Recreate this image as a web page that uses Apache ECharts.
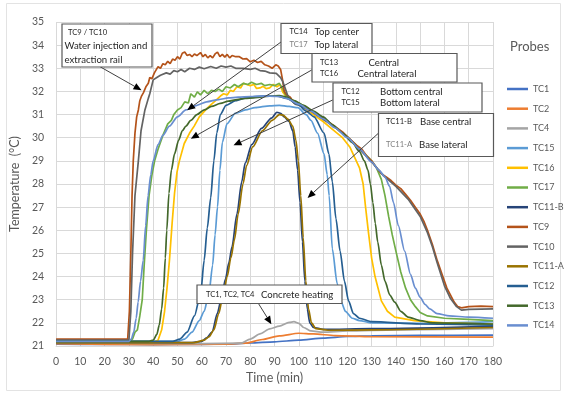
<!DOCTYPE html>
<html><head><meta charset="utf-8">
<script src="https://cdn.jsdelivr.net/npm/echarts@6/dist/echarts.min.js"></script>
<style>html,body{margin:0;padding:0;background:#fff}#c{width:564px;height:394px}</style>
</head><body><div id="c"></div>
<script>
// ---------- DATA ([time min, temperature °C]) ----------
const probeNames = ['TC1','TC2','TC4','TC15','TC16','TC17','TC11-B','TC9','TC10','TC11-A','TC12','TC13','TC14'];

const TC1 = [[0,21.08],[20,21.07],[40,21.06],[60,21.07],[70,21.08],[80,21.13],[90,21.18],[100,21.25],[110,21.34],[120,21.41],[130,21.44],[150,21.46],[180,21.47]];
const TC2 = [[0,21.1],[40,21.06],[70,21.08],[78,21.12],[85,21.28],[92,21.44],[100,21.55],[106,21.52],[115,21.45],[130,21.4],[180,21.38]];
const TC4 = [[0,21.15],[60,21.1],[76,21.12],[80,21.3],[84,21.52],[88,21.74],[92,21.86],[96,22.02],[98,22.05],[100,21.98],[102,21.8],[105,21.65],[110,21.6],[120,21.65],[140,21.7],[180,21.75]];
const TC15 = [[0,21.2],[50,21.2],[53,21.3],[56,21.6],[59,22.1],[61,22.5],[63,23.3],[64.5,24.5],[65.5,25.8],[66.5,27.0],[67.5,28.6],[68.5,29.8],[70.4,30.6],[73.8,31.05],[78,31.2],[82,31.3],[88,31.38],[92,31.4],[96,31.35],[99.6,31.3],[103,31.0],[105,30.75],[107.7,30.2],[110.4,29.3],[111.7,28.4],[112.5,27.5],[113.8,25.2],[115.8,23.7],[117.5,22.9],[119.2,22.5],[122,22.2],[125,22.1],[130,22.0],[150,21.98],[180,22.05]];
const TC16 = [[0,21.15],[40,21.15],[42,21.25],[43.5,21.7],[44.7,22.5],[45.7,23.5],[46.7,24.7],[47.8,26.3],[48.8,27.6],[49.8,28.5],[50.8,29.0],[52.8,29.75],[55,30.2],[56.9,30.5],[59,30.9],[61.6,31.2],[63.5,31.4],[65.7,31.6],[67.7,31.8],[69,31.9],[70.5,31.85],[71.8,32.05],[73,32.0],[74.5,32.2],[76,32.15],[77.2,32.35],[78.5,32.3],[80,32.25],[81.5,32.3],[82.6,32.13],[84,32.15],[85.3,32.22],[86.5,32.12],[88,32.15],[89.5,32.3],[91,32.2],[92.2,32.3],[93.5,31.95],[95,31.75],[98,31.55],[102,31.3],[106,31.0],[110,30.7],[114,30.35],[118,30.0],[121,29.6],[123,29.15],[125,28.7],[126.5,28.0],[127.5,27.0],[128.7,25.9],[130,24.8],[131.4,24.0],[134,22.95],[136.5,22.5],[139.5,22.25],[147.6,22.1],[160,22.0],[180,21.95]];
const TC17 = [[0,21.2],[30,21.2],[31.5,21.3],[32.5,21.6],[33.5,21.7],[34.5,22.3],[35.5,23.0],[36.3,24.5],[37.2,26.0],[38.3,27.5],[39.5,28.4],[40.6,29.0],[42,29.5],[44,30.1],[46,30.6],[47.5,30.75],[48.5,31.0],[50,31.2],[51.5,31.3],[53,31.55],[54.5,31.5],[55.5,31.9],[57,31.75],[58.2,31.98],[59.5,31.85],[61,32.05],[62.5,31.9],[64,32.05],[65.5,32.0],[67,32.1],[68.5,32.0],[70,32.2],[71.8,32.15],[73.5,32.3],[75,32.2],[77.2,32.35],[79,32.3],[80.5,32.4],[82.6,32.3],[84.5,32.35],[86,32.25],[88,32.3],[90,32.25],[92,32.35],[93.5,32.1],[94.5,31.85],[97,31.65],[100,31.5],[105,31.2],[110,30.85],[115,30.45],[120,30.05],[125,29.55],[130,29.0],[132,28.7],[134,28.2],[135.5,27.5],[137,26.6],[138.5,25.8],[140,25.1],[142,24.2],[144,23.5],[146,23.0],[148,22.7],[150,22.45],[153,22.3],[160,22.2],[170,22.15],[180,22.1]];
const TC11B = [[0,21.15],[56,21.15],[60,21.2],[62,21.35],[64.3,21.6],[66.4,22.4],[68,23.0],[69.8,23.9],[71.2,24.6],[72.5,25.3],[74.5,26.7],[76.5,28.1],[77.9,28.9],[80.6,29.7],[84.6,30.4],[88.7,30.85],[91,31.1],[92.5,31.05],[94,30.9],[96,30.7],[97.5,30.3],[98.5,29.6],[99.5,28.6],[100.5,27.2],[101.5,25.5],[102.5,23.8],[103.5,22.6],[104.5,22.0],[106,21.8],[110,21.72],[130,21.75],[180,21.85]];
const TC9 = [[0,21.3],[29.5,21.3],[30.2,22.5],[30.8,25.0],[31.3,27.5],[31.8,29.0],[32.5,30.2],[33.2,30.9],[33.9,31.2],[34.5,31.6],[35.2,31.8],[36,31.95],[37,32.2],[38,32.35],[38.6,32.6],[39.5,32.55],[40.5,32.8],[41.3,32.75],[42,33.07],[43,33.0],[44,33.2],[45,33.15],[46,33.3],[47,33.2],[48,33.4],[49,33.35],[50,33.5],[51,33.4],[52,33.65],[53,33.7],[54,33.55],[55,33.6],[56,33.5],[57,33.62],[58,33.55],[59.5,33.68],[60.5,33.5],[61.5,33.6],[62.5,33.45],[63.5,33.55],[64.5,33.45],[65.5,33.62],[66.5,33.7],[67.5,33.5],[68.5,33.6],[69.5,33.48],[70.5,33.6],[71.5,33.45],[72.5,33.55],[74,33.5],[75.5,33.5],[77,33.4],[78.5,33.42],[80,33.28],[81.5,33.35],[83,33.25],[84.5,33.3],[86,33.15],[87.5,33.1],[89,33.0],[90.5,33.15],[91.5,33.1],[92.5,32.95],[93.3,32.5],[94,32.0],[95,31.85],[96.5,31.75],[98,31.5],[100,31.45],[102,31.35],[104,31.25],[106,31.1],[108,30.95],[110,30.85],[112,30.7],[114,30.55],[116,30.4],[118,30.25],[120,30.05],[122,29.85],[124,29.65],[126,29.5],[128,29.2],[130,29.0],[132,28.7],[134,28.45],[136,28.3],[138,28.15],[140,27.95],[142,27.8],[144,27.55],[146,27.3],[148,27.0],[150,26.7],[151.7,26.35],[153,26.0],[155,25.4],[157,24.7],[159,24.1],[161,23.5],[162.5,23.2],[164,22.9],[165.5,22.7],[167,22.65],[170,22.7],[175,22.72],[180,22.7]];
const TC10 = [[0,21.25],[30,21.25],[30.8,22.5],[31.5,25.0],[32.5,27.5],[33.9,29.0],[35,30.3],[36.6,31.2],[38,31.7],[38.6,31.9],[40,32.5],[41.5,32.6],[43,32.7],[45.4,32.8],[47,32.75],[48.5,32.9],[50,32.85],[51.5,32.95],[53,32.85],[55,33.0],[57,32.95],[59,33.05],[61,32.98],[63.7,33.08],[66,33.0],[68,33.1],[70,33.05],[72,33.1],[74,33.0],[77,33.0],[80,32.95],[82,33.0],[84,32.9],[86,32.88],[88,32.8],[90.7,32.78],[92.5,32.6],[93.5,32.4],[94.5,32.1],[95.5,31.8],[97,31.6],[98.5,31.45],[100,31.4],[105,31.15],[110,30.8],[115,30.45],[120,30.0],[125,29.5],[130,28.95],[135,28.35],[140,27.9],[145,27.35],[150,26.6],[153,25.9],[155,25.3],[157,24.6],[160,23.6],[162.5,23.05],[165,22.7],[167,22.55],[170,22.58],[180,22.6]];
const TC11A = [[0,21.15],[57,21.15],[61,21.25],[63,21.4],[65,21.7],[67,22.4],[68.8,23.2],[70.5,24.0],[72,24.8],[73.5,25.6],[75,26.7],[77,28.0],[78.5,28.8],[81,29.6],[85,30.3],[89,30.75],[92,31.0],[93.5,30.98],[95.5,30.8],[97.5,30.5],[98.8,29.9],[99.8,29.0],[100.8,27.5],[101.8,25.7],[102.9,23.8],[104,22.6],[105.2,22.0],[107,21.75],[112,21.68],[130,21.7],[180,21.8]];
const TC12 = [[0,21.2],[48,21.2],[51,21.3],[54,21.6],[57,22.3],[59.6,23.3],[61,24.7],[62.3,26.1],[63.7,27.4],[65,29.0],[66.2,30.2],[67.7,31.0],[70,31.4],[74,31.6],[79,31.75],[85,31.8],[91,31.8],[95,31.7],[99.6,31.45],[103,31.15],[106.3,30.9],[110.4,30.2],[112.4,29.3],[113.8,28.1],[115.3,26.5],[117,25.1],[118.8,23.8],[120.5,22.95],[122.5,22.4],[125,22.2],[130,22.05],[150,21.95],[180,21.9]];
const TC13 = [[0,21.2],[38,21.2],[40,21.25],[41.5,21.5],[42.5,21.9],[43.5,22.6],[44.3,23.5],[45,24.8],[45.6,26.0],[46.5,27.6],[47.5,28.6],[48.8,29.3],[50.5,29.9],[52,30.3],[53.5,30.5],[55.5,30.75],[58,31.0],[61,31.2],[64,31.35],[67.7,31.48],[71,31.58],[74.5,31.65],[78,31.7],[81.3,31.72],[85,31.76],[88,31.8],[92,31.82],[95,31.75],[98,31.6],[102,31.4],[106,31.15],[110,30.9],[114,30.55],[118,30.2],[122,29.8],[125,29.4],[127,29.0],[128.5,28.6],[129.5,28.0],[130.5,27.2],[131.5,26.3],[132.5,25.5],[134,24.5],[135.5,23.8],[137.5,23.2],[139.5,22.9],[142,22.5],[145,22.25],[150,22.1],[155,22.0],[180,21.95]];
const TC14 = [[0,21.2],[30,21.2],[31,21.3],[32,21.6],[33,22.2],[33.8,22.9],[34.8,23.8],[35.9,24.7],[36.9,26.2],[37.9,27.5],[39,28.4],[40,29.0],[42,29.7],[44,30.1],[46.7,30.5],[50,30.9],[53.5,31.2],[58,31.4],[62,31.55],[67,31.65],[71,31.72],[75,31.75],[80,31.78],[85,31.8],[88,31.8],[92,31.78],[95,31.7],[100,31.45],[105,31.15],[110,30.82],[115,30.42],[120,30.0],[125,29.52],[130,28.95],[133,28.6],[135.5,28.3],[137.4,27.9],[139,27.2],[141,26.2],[143.6,25.1],[146,24.1],[148,23.5],[150,23.1],[152,22.8],[154,22.6],[157,22.4],[162,22.3],[170,22.25],[180,22.2]];

const seriesData = [TC1, TC2, TC4, TC15, TC16, TC17, TC11B, TC9, TC10, TC11A, TC12, TC13, TC14];
const noisy = [false,false,false,false,true,true,false,true,true,false,false,false,false];
const colors = ['#4472C4','#ED7D31','#A5A5A5','#5B9BD5','#FFC000','#70AD47','#264478','#B4531A','#636363','#997300','#255E91','#43682B','#698ED0'];

const xMin = 0, xMax = 180, xStep = 10;
const yMin = 21, yMax = 35, yStep = 1;

// ---------- CHART ----------
const FONT = 'Lato';
const chart = echarts.init(document.getElementById('c'), null, {renderer:'canvas'});
const grid = {left:50, right:71, top:22, bottom:48};

chart.setOption({
  animation:false,
  backgroundColor:'#fff',
  textStyle:{fontFamily:FONT},
  grid:grid,
  legend:{
    orient:'vertical', left:507, top:82, padding:0,
    itemWidth:21, itemHeight:2.5, itemGap:5.7,
    icon:'rect',
    textStyle:{color:'#595959', fontSize:9, lineHeight:14, fontFamily:FONT},
    data:probeNames
  },
  xAxis:{
    type:'value', min:xMin, max:xMax, interval:xStep,
    name:'Time (min)', nameLocation:'middle', nameGap:24,
    nameTextStyle:{color:'#595959', fontSize:12.5, fontFamily:FONT},
    axisLine:{show:true, lineStyle:{color:'#D9D9D9'}},
    axisTick:{show:false},
    axisLabel:{color:'#595959', fontSize:10.5, margin:10, fontFamily:FONT},
    splitLine:{show:true, lineStyle:{color:'#D9D9D9', width:1}}
  },
  yAxis:{
    type:'value', min:yMin, max:yMax, interval:yStep,
    name:'Temperature  (°C)', nameLocation:'middle', nameGap:21, nameRotate:90,
    nameTextStyle:{color:'#595959', fontSize:12.5, fontFamily:FONT},
    axisLine:{show:false}, axisTick:{show:false},
    axisLabel:{color:'#595959', fontSize:10.5, margin:12, fontFamily:FONT},
    splitLine:{show:true, lineStyle:{color:'#D9D9D9', width:1}}
  },
  series: probeNames.map((n,i)=>({
    name:n, type:'line', data:seriesData[i], showSymbol:false, symbol:'none',
    smooth: noisy[i] ? false : 0.25, smoothMonotone:'x',
    color:colors[i],
    lineStyle:{width:1.7, color:colors[i]},
    emphasis:{disabled:true}
  }))
});

// ---------- ANNOTATIONS ----------
// arrow targets in data coordinates
const arrowTargets = [[35.2,32.05],[54,31.19],[55.5,29.96],[73.1,29.67],[103.6,27.4],[88.7,21.94]];
const arrowStarts = [[100,66.7],[281,42],[311.7,70],[332.7,100],[378.3,133.3],[258.3,303.3]];
const LBL = 7.6, TXT = 9.6;
const boxes = [
  {x:62,y:24,w:90,h:43, lines:[
    {t:'TC9 / TC10', x:68, y:33, s:LBL, c:'#262626'},
    {t:'Water injection and', x:64.5, y:45.5, s:TXT, c:'#262626'},
    {t:'extraction rail', x:64.5, y:59.5, s:TXT, c:'#262626'}]},
  {x:281,y:23.5,w:91,h:30, lines:[
    {t:'TC14', x:289.5, y:32, s:LBL, c:'#262626'},
    {t:'Top center', x:314.5, y:32, s:TXT, c:'#262626'},
    {t:'TC17', x:289.5, y:44.5, s:LBL, c:'#808080'},
    {t:'Top lateral', x:314.5, y:44.5, s:TXT, c:'#262626'}]},
  {x:312,y:53.5,w:145,h:28.5, lines:[
    {t:'TC13', x:320, y:62.5, s:LBL, c:'#262626'},
    {t:'Central', x:368.5, y:62.5, s:TXT, c:'#262626'},
    {t:'TC16', x:320, y:74, s:LBL, c:'#262626'},
    {t:'Central lateral', x:357.5, y:74, s:TXT, c:'#262626'}]},
  {x:333,y:83,w:149,h:29, lines:[
    {t:'TC12', x:341.5, y:92, s:LBL, c:'#262626'},
    {t:'Bottom central', x:380, y:92, s:TXT, c:'#262626'},
    {t:'TC15', x:341.5, y:103, s:LBL, c:'#262626'},
    {t:'Bottom lateral', x:380, y:103, s:TXT, c:'#262626'}]},
  {x:378.5,y:113.5,w:115,h:43, lines:[
    {t:'TC11-B', x:386, y:122, s:LBL, c:'#262626'},
    {t:'Base central', x:420, y:122, s:TXT, c:'#262626'},
    {t:'TC11-A', x:386, y:145, s:LBL, c:'#808080'},
    {t:'Base lateral', x:419, y:145, s:TXT, c:'#262626'}]},
  {x:197,y:285,w:145,h:18.5, lines:[
    {t:'TC1, TC2, TC4', x:206, y:294.5, s:LBL, c:'#262626'},
    {t:'Concrete heating', x:261, y:294.5, s:TXT, c:'#262626'}]}
];

function arrowEls(x1,y1,x2,y2){
  const dx=x2-x1, dy=y2-y1, len=Math.hypot(dx,dy), ux=dx/len, uy=dy/len;
  const L=8, W=7, bx=x2-ux*L, by=y2-uy*L;
  return [
    {type:'line', z:100, silent:true, shape:{x1:x1,y1:y1,x2:bx,y2:by}, style:{stroke:'#404040', lineWidth:1}},
    {type:'polygon', z:100, silent:true, shape:{points:[[x2,y2],[bx-uy*W/2,by+ux*W/2],[bx+uy*W/2,by-ux*W/2]]}, style:{fill:'#000'}}
  ];
}

const g = [];
g.push({type:'rect', z:-1, silent:true, shape:{x:6.5,y:3.5,width:554,height:387}, style:{fill:null, stroke:'#E3E3E3', lineWidth:1}});
g.push({type:'text', z:100, silent:true, style:{text:'Probes', x:510, y:47, fill:'#595959', fontSize:13, fontFamily:FONT, verticalAlign:'middle'}});
arrowTargets.forEach((tg,i)=>{
  const p = chart.convertToPixel({gridIndex:0}, tg);
  arrowEls(arrowStarts[i][0], arrowStarts[i][1], p[0], p[1]).forEach(e=>g.push(e));
});
boxes.forEach(b=>{
  g.push({type:'rect', z:101, silent:true, shape:{x:b.x,y:b.y,width:b.w,height:b.h}, style:{fill:'#fff', stroke:'#595959', lineWidth:1.2}});
  b.lines.forEach(l=>{
    g.push({type:'text', z:102, silent:true, style:{text:l.t, x:l.x, y:l.y, fill:l.c, fontSize:l.s, fontFamily:FONT, verticalAlign:'middle', align:'left'}});
  });
});
chart.setOption({graphic:g});
</script>
</body></html>
